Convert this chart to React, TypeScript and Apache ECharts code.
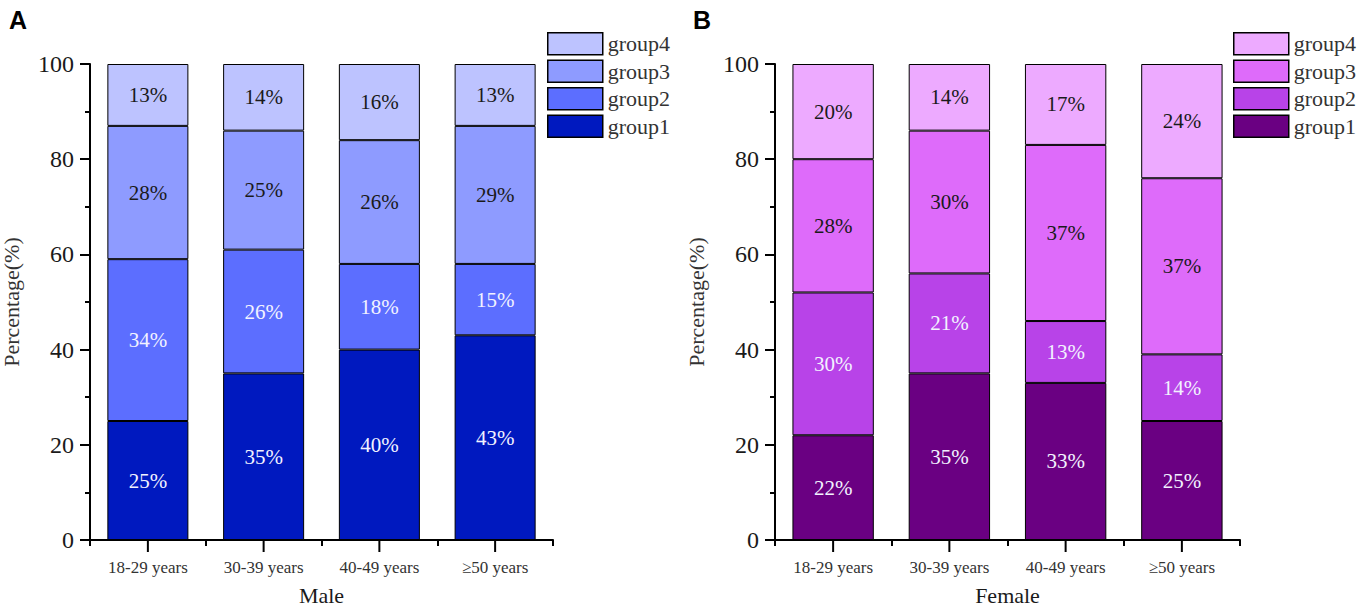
import React, { useEffect, useRef } from "react";
import * as echarts from "echarts";

const categories = ["18-29 years", "30-39 years", "40-49 years", "≥50 years"];
const groups = ["group1", "group2", "group3", "group4"];

const maleGroup1 = [25, 35, 40, 43];
const maleGroup2 = [34, 26, 18, 15];
const maleGroup3 = [28, 25, 26, 29];
const maleGroup4 = [13, 14, 16, 13];

const femaleGroup1 = [22, 35, 33, 25];
const femaleGroup2 = [30, 21, 13, 14];
const femaleGroup3 = [28, 30, 37, 37];
const femaleGroup4 = [20, 14, 17, 24];

const maleColors = ["#0019BF", "#5C6EFF", "#8E9BFF", "#BDC3FF"];
const femaleColors = ["#6A0082", "#B843E8", "#DE6BFA", "#EDAAFF"];
const labelColors = ["#F2F2FF", "#F2F2FF", "#1A1A1A", "#1A1A1A"];

const FONT = "Liberation Serif";

export default function App() {
  const ref = useRef<HTMLDivElement>(null);
  useEffect(() => {
    if (!ref.current) return;
    const chart = echarts.init(ref.current, null, { renderer: "svg" });
    const maleData = [maleGroup1, maleGroup2, maleGroup3, maleGroup4];
    const femaleData = [femaleGroup1, femaleGroup2, femaleGroup3, femaleGroup4];

    const grids = [
      { left: 90, top: 64, width: 463, height: 476, containLabel: false, outerBoundsMode: "none" },
      { left: 775, top: 64, width: 465, height: 476, containLabel: false, outerBoundsMode: "none" },
    ];
    const names = ["Male", "Female"];

    const xAxis: any[] = [];
    const yAxis: any[] = [];
    grids.forEach((_, gi) => {
      xAxis.push({
        type: "category",
        gridIndex: gi,
        data: categories,
        position: "bottom",
        name: names[gi],
        nameLocation: "middle",
        nameGap: 44,
        nameTextStyle: { fontFamily: FONT, fontSize: 22, color: "#1a1a1a" },
        axisLine: { show: true, lineStyle: { color: "#000", width: 2 } },
        axisTick: { show: true, interval: 0, length: 6, lineStyle: { color: "#000", width: 2 } },
        axisLabel: { fontFamily: FONT, fontSize: 17, color: "#333", margin: 19, interval: 0 },
      });
      yAxis.push({
        type: "value",
        gridIndex: gi,
        min: 0,
        max: 100,
        interval: 20,
        name: "Percentage(%)",
        nameLocation: "middle",
        nameGap: 68,
        nameTextStyle: { fontFamily: FONT, fontSize: 22, color: "#333" },
        axisLine: { show: true, lineStyle: { color: "#000", width: 2 } },
        axisTick: { show: true, length: 10, lineStyle: { color: "#000", width: 2 } },
        minorTick: { show: true, splitNumber: 2, length: 5, lineStyle: { color: "#000", width: 2 } },
        splitLine: { show: false },
        axisLabel: { fontFamily: FONT, fontSize: 24, color: "#1a1a1a", margin: 16 },
      });
    });

    const series: any[] = [];
    [maleData, femaleData].forEach((dataSet, gi) => {
      const colors = gi === 0 ? maleColors : femaleColors;
      const prefix = gi === 0 ? "A-" : "B-";
      dataSet.forEach((vals, k) => {
        series.push({
          type: "bar",
          name: prefix + groups[k],
          xAxisIndex: gi,
          yAxisIndex: gi,
          stack: "s" + gi,
          data: vals,
          barCategoryGap: "30%",
          itemStyle: { color: colors[k], borderColor: "#000", borderWidth: 1 },
          label: {
            show: true,
            position: "inside",
            formatter: "{c}%",
            fontFamily: FONT,
            fontSize: 21,
            color: labelColors[k],
          },
        });
      });
      // longer ticks under each category centre, placed through the axis scale
      series.push({
        type: "custom",
        name: "ticks" + gi,
        xAxisIndex: gi,
        yAxisIndex: gi,
        silent: true,
        clip: false,
        z: 5,
        data: categories.map((_, i) => [i, 0]),
        renderItem: (params: any, api: any) => {
          const p = api.coord([api.value(0), 0]);
          return {
            type: "line",
            shape: { x1: p[0], y1: p[1], x2: p[0], y2: p[1] + 12 },
            style: { stroke: "#000", lineWidth: 2 },
          };
        },
      });
    });

    const legendOrder = ["group4", "group3", "group2", "group1"];
    const legend = [
      { prefix: "A-", left: 542 },
      { prefix: "B-", left: 1228 },
    ].map((l) => ({
      data: legendOrder.map((g) => l.prefix + g),
      orient: "vertical",
      left: l.left,
      top: 27,
      itemWidth: 55,
      itemHeight: 22,
      itemGap: 4,
      icon: "rect",
      selectedMode: false,
      formatter: (n: string) => n.slice(2),
      itemStyle: { borderColor: "#000", borderWidth: 1.5 },
      textStyle: { fontFamily: FONT, fontSize: 22, color: "#333" },
    }));

    chart.setOption({
      animation: false,
      backgroundColor: "#fff",
      title: [
        { text: "A", left: 4, top: 2, textStyle: { fontFamily: "Liberation Sans", fontSize: 25, fontWeight: "bold", color: "#000" } },
        { text: "B", left: 688, top: 2, textStyle: { fontFamily: "Liberation Sans", fontSize: 25, fontWeight: "bold", color: "#000" } },
      ],
      grid: grids,
      xAxis,
      yAxis,
      legend,
      series,
    });
    return () => chart.dispose();
  }, []);
  return (
    <div
      ref={ref}
      style={{ position: "absolute", left: 0, top: 0, width: 1358, height: 608 }}
    />
  );
}
